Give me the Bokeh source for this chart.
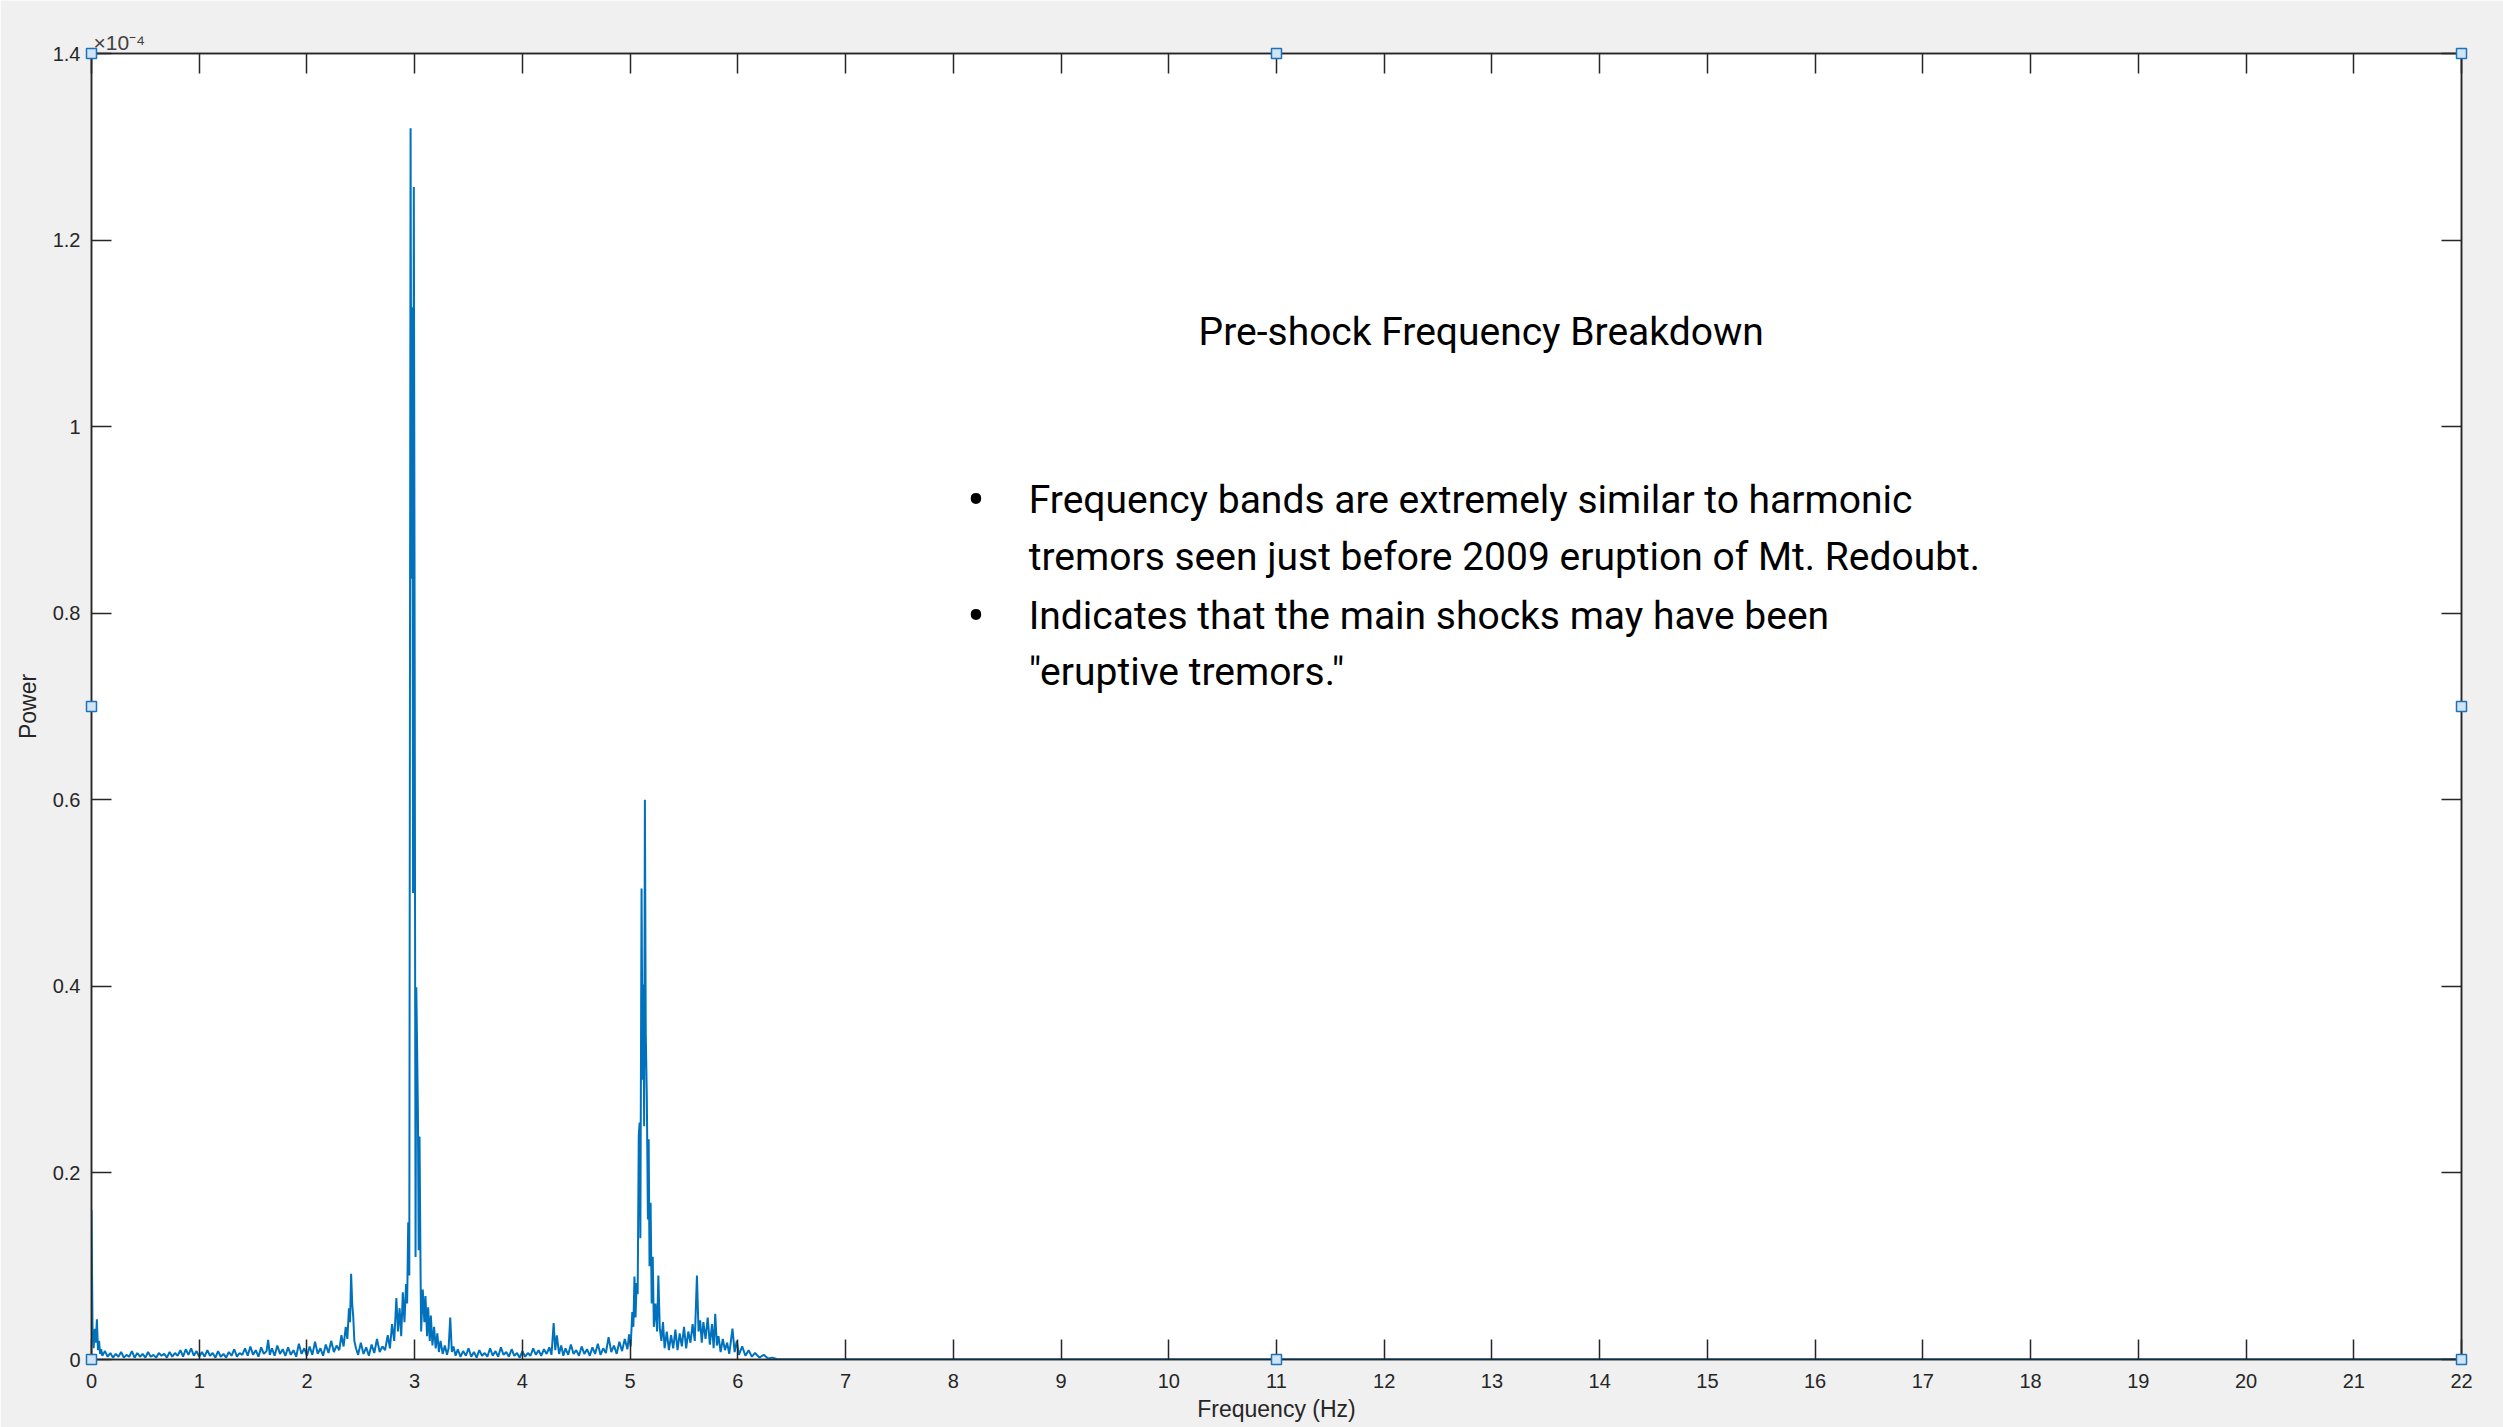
from bokeh.plotting import figure
from bokeh.models import Range1d, FixedTicker, LinearAxis, Label, NumeralTickFormatter
from bokeh.embed import file_html
from bokeh.resources import INLINE

# ---------------- data ----------------
# frequency in Hz, power in units of 1e-4
freq_hz = [
    0.000, 0.010, 0.020, 0.030, 0.040, 0.050, 0.060, 0.070, 0.080, 0.090,
    0.100, 0.125, 0.150, 0.175, 0.200, 0.225, 0.250, 0.275, 0.300, 0.325,
    0.350, 0.375, 0.400, 0.425, 0.450, 0.475, 0.500, 0.525, 0.550, 0.575,
    0.600, 0.625, 0.650, 0.675, 0.700, 0.725, 0.750, 0.775, 0.800, 0.825,
    0.850, 0.875, 0.900, 0.925, 0.950, 0.975, 1.000, 1.025, 1.050, 1.075,
    1.100, 1.125, 1.150, 1.175, 1.200, 1.225, 1.250, 1.275, 1.300, 1.325,
    1.350, 1.375, 1.400, 1.425, 1.450, 1.475, 1.500, 1.525, 1.550, 1.575,
    1.600, 1.625, 1.640, 1.655, 1.675, 1.700, 1.725, 1.750, 1.775, 1.800,
    1.825, 1.850, 1.875, 1.900, 1.925, 1.950, 1.975, 2.000, 2.025, 2.050,
    2.075, 2.100, 2.125, 2.150, 2.175, 2.200, 2.225, 2.250, 2.275, 2.300,
    2.320, 2.340, 2.360, 2.375, 2.390, 2.400, 2.410, 2.420, 2.430, 2.440,
    2.455, 2.475, 2.500, 2.525, 2.550, 2.575, 2.600, 2.625, 2.650, 2.675,
    2.700, 2.725, 2.750, 2.770, 2.790, 2.810, 2.830, 2.845, 2.860, 2.875,
    2.890, 2.905, 2.920, 2.930, 2.940, 2.950, 2.962, 2.970, 2.978, 2.985,
    2.992, 3.000, 3.008, 3.015, 3.022, 3.030, 3.037, 3.045, 3.055, 3.060,
    3.075, 3.090, 3.100, 3.115, 3.125, 3.140, 3.150, 3.165, 3.180, 3.195,
    3.210, 3.225, 3.240, 3.260, 3.280, 3.300, 3.315, 3.330, 3.345, 3.360,
    3.380, 3.400, 3.425, 3.450, 3.475, 3.500, 3.525, 3.550, 3.575, 3.600,
    3.625, 3.650, 3.675, 3.700, 3.725, 3.750, 3.775, 3.800, 3.825, 3.850,
    3.875, 3.900, 3.925, 3.950, 3.975, 4.000, 4.025, 4.050, 4.075, 4.100,
    4.125, 4.150, 4.175, 4.200, 4.225, 4.250, 4.270, 4.290, 4.305, 4.320,
    4.340, 4.360, 4.380, 4.400, 4.425, 4.450, 4.475, 4.500, 4.525, 4.550,
    4.575, 4.600, 4.625, 4.650, 4.675, 4.700, 4.725, 4.750, 4.775, 4.800,
    4.825, 4.850, 4.875, 4.900, 4.925, 4.950, 4.975, 4.990, 5.005, 5.020,
    5.030, 5.040, 5.050, 5.060, 5.070, 5.080, 5.088, 5.095, 5.106, 5.115,
    5.122, 5.130, 5.137, 5.145, 5.155, 5.165, 5.172, 5.180, 5.190, 5.200,
    5.210, 5.220, 5.235, 5.250, 5.262, 5.275, 5.290, 5.305, 5.320, 5.340,
    5.360, 5.380, 5.400, 5.420, 5.440, 5.460, 5.480, 5.500, 5.520, 5.540,
    5.560, 5.580, 5.600, 5.620, 5.635, 5.650, 5.665, 5.680, 5.700, 5.720,
    5.740, 5.760, 5.775, 5.790, 5.805, 5.820, 5.840, 5.860, 5.880, 5.900,
    5.920, 5.950, 5.970, 5.990, 6.010, 6.040, 6.070, 6.100, 6.130, 6.160,
    6.200, 6.240, 6.280, 6.320, 6.360, 6.400, 22.000,
]
power_e4 = [
    0.160, 0.030, 0.012, 0.033, 0.018, 0.043, 0.010, 0.020, 0.006, 0.011,
    0.004, 0.009, 0.003, 0.007, 0.002, 0.006, 0.003, 0.008, 0.002, 0.005,
    0.003, 0.009, 0.002, 0.007, 0.003, 0.006, 0.002, 0.008, 0.003, 0.005,
    0.002, 0.007, 0.004, 0.006, 0.002, 0.008, 0.003, 0.007, 0.004, 0.010,
    0.003, 0.011, 0.005, 0.012, 0.004, 0.009, 0.003, 0.008, 0.003, 0.010,
    0.004, 0.007, 0.002, 0.009, 0.003, 0.006, 0.002, 0.008, 0.004, 0.011,
    0.003, 0.007, 0.005, 0.012, 0.004, 0.014, 0.005, 0.010, 0.003, 0.013,
    0.006, 0.009, 0.021, 0.005, 0.012, 0.004, 0.015, 0.006, 0.011, 0.004,
    0.013, 0.005, 0.010, 0.003, 0.017, 0.006, 0.012, 0.004, 0.014, 0.005,
    0.019, 0.006, 0.012, 0.004, 0.016, 0.007, 0.020, 0.008, 0.015, 0.010,
    0.026, 0.014, 0.035, 0.022, 0.055, 0.040, 0.092, 0.060, 0.045, 0.020,
    0.012, 0.005, 0.018, 0.006, 0.013, 0.004, 0.016, 0.007, 0.022, 0.008,
    0.014, 0.010, 0.026, 0.012, 0.038, 0.020, 0.066, 0.030, 0.055, 0.025,
    0.072, 0.040, 0.081, 0.060, 0.147, 0.090, 1.320, 0.837, 1.128, 0.500,
    1.257, 0.750, 0.110, 0.399, 0.339, 0.265, 0.117, 0.239, 0.088, 0.030,
    0.075, 0.040, 0.068, 0.025, 0.056, 0.020, 0.047, 0.015, 0.035, 0.012,
    0.028, 0.008, 0.020, 0.006, 0.015, 0.005, 0.012, 0.045, 0.008, 0.014,
    0.004, 0.011, 0.003, 0.009, 0.004, 0.012, 0.003, 0.008, 0.002, 0.010,
    0.004, 0.007, 0.003, 0.012, 0.004, 0.009, 0.003, 0.013, 0.005, 0.008,
    0.003, 0.011, 0.004, 0.007, 0.002, 0.009, 0.003, 0.007, 0.004, 0.012,
    0.005, 0.010, 0.004, 0.011, 0.006, 0.013, 0.005, 0.039, 0.010, 0.026,
    0.006, 0.015, 0.004, 0.012, 0.005, 0.016, 0.006, 0.010, 0.004, 0.014,
    0.006, 0.011, 0.004, 0.013, 0.006, 0.017, 0.005, 0.012, 0.007, 0.024,
    0.008, 0.015, 0.006, 0.019, 0.009, 0.022, 0.011, 0.027, 0.014, 0.051,
    0.035, 0.089, 0.045, 0.082, 0.070, 0.240, 0.254, 0.130, 0.505, 0.300,
    0.402, 0.250, 0.600, 0.350, 0.280, 0.150, 0.236, 0.100, 0.168, 0.060,
    0.110, 0.035, 0.060, 0.030, 0.090, 0.034, 0.020, 0.040, 0.012, 0.030,
    0.010, 0.026, 0.012, 0.032, 0.010, 0.028, 0.014, 0.035, 0.012, 0.030,
    0.018, 0.038, 0.020, 0.090, 0.030, 0.042, 0.018, 0.040, 0.022, 0.045,
    0.016, 0.038, 0.012, 0.049, 0.015, 0.025, 0.008, 0.022, 0.010, 0.018,
    0.006, 0.033, 0.008, 0.020, 0.005, 0.014, 0.004, 0.010, 0.003, 0.007,
    0.002, 0.005, 0.001, 0.002, 0.0005, 0.0003, 0.0002,
]

x_ticks = list(range(0, 23))
y_ticks = [0, 0.2, 0.4, 0.6, 0.8, 1.0, 1.2, 1.4]
x_label = "Frequency (Hz)"
y_label = "Power"
exponent_text = "\u00d710\u207b\u2074"

title_text = "Pre-shock Frequency Breakdown"
bullet_lines = [
    "Frequency bands are extremely similar  to harmonic",
    "tremors seen just before 2009 eruption of Mt. Redoubt.",
    "Indicates that the main shocks may have been",
    "\"eruptive tremors.\"",
]
bullet_on_line = [True, False, True, False]

# ---------------- styling ----------------
AX = "#262626"
BLUE = "#0072BD"
TICK_FONT = "Liberation Sans"
NOTE_FONT = "Roboto"

x0, x1 = 0, 22
y0, y1 = 0, 1.4

p = figure(
    width=2503, height=1427,
    x_range=Range1d(x0, x1), y_range=Range1d(y0, y1),
    output_backend="svg", toolbar_location=None,
    min_border_left=91, min_border_right=42,
    min_border_top=53, min_border_bottom=68,
    x_axis_location="below", y_axis_location="left",
    title=exponent_text,
)
p.background_fill_color = "white"
p.border_fill_color = "#F0F0F0"
p.outline_line_color = AX
p.outline_line_width = 1.5
p.xgrid.visible = False
p.ygrid.visible = False

p.title.align = "left"
p.title.offset = 2
p.title.standoff = 0
p.title.text_font = TICK_FONT
p.title.text_font_style = "normal"
p.title.text_font_size = "21px"
p.title.text_color = "#404040"


def style_axis(ax, show_labels):
    ax.axis_line_color = AX
    ax.axis_line_width = 1.5
    ax.major_tick_line_color = AX
    ax.major_tick_line_width = 1.5
    ax.major_tick_in = 20
    ax.major_tick_out = 0
    ax.minor_tick_in = 0
    ax.minor_tick_out = 0
    ax.minor_tick_line_color = None
    ax.major_label_text_font = TICK_FONT
    if show_labels:
        ax.major_label_text_color = AX
        ax.major_label_text_font_size = "20px"
    else:
        ax.major_label_text_color = None
        ax.major_label_text_font_size = "1px"
        ax.major_label_standoff = 0
    ax.axis_label_text_font = TICK_FONT
    ax.axis_label_text_font_style = "normal"
    ax.axis_label_text_color = AX
    ax.axis_label_text_font_size = "23px"


xa = p.xaxis[0]
xa.ticker = FixedTicker(ticks=x_ticks)
xa.axis_label = x_label
xa.major_label_standoff = 14
xa.axis_label_standoff = 5
style_axis(xa, True)

ya = p.yaxis[0]
ya.ticker = FixedTicker(ticks=y_ticks)
ya.formatter = NumeralTickFormatter(format="0.[0]")
ya.axis_label = y_label
ya.major_label_standoff = 11
ya.axis_label_standoff = 9
style_axis(ya, True)

top_ax = LinearAxis(ticker=FixedTicker(ticks=x_ticks))
style_axis(top_ax, False)
p.add_layout(top_ax, "above")

right_ax = LinearAxis(ticker=FixedTicker(ticks=y_ticks))
style_axis(right_ax, False)
p.add_layout(right_ax, "right")

# spectrum
p.line(freq_hz, power_e4, line_color=BLUE, line_width=2.0)

# selection handles (corners and mid-edges of the axes box)
xm = (x0 + x1) / 2
ym = (y0 + y1) / 2
hx = [x0, xm, x1, x0, x1, x0, xm, x1]
hy = [y0, y0, y0, ym, ym, y1, y1, y1]
p.scatter(hx, hy, marker="square", size=10, fill_color="#cfe4f6",
          line_color="#1f72b8", line_width=1.5, level="overlay")

# annotation text (positions in data coordinates)
p.add_layout(Label(x=12.9, y=1.101, text=title_text, text_font=NOTE_FONT,
                   text_font_size="39px", text_color="black",
                   text_align="center", text_baseline="middle"))

line_y = [0.921, 0.860, 0.797, 0.737]
for txt, yv, has_bullet in zip(bullet_lines, line_y, bullet_on_line):
    p.add_layout(Label(x=8.70, y=yv, text=txt, text_font=NOTE_FONT,
                       text_font_size="39px", text_color="black",
                       text_align="left", text_baseline="middle"))
    if has_bullet:
        p.add_layout(Label(x=8.21, y=yv, text="\u2022", text_font=NOTE_FONT,
                           text_font_size="52px", text_color="black",
                           text_align="center", text_baseline="middle"))

open("out.html", "w").write(file_html(p, INLINE))
